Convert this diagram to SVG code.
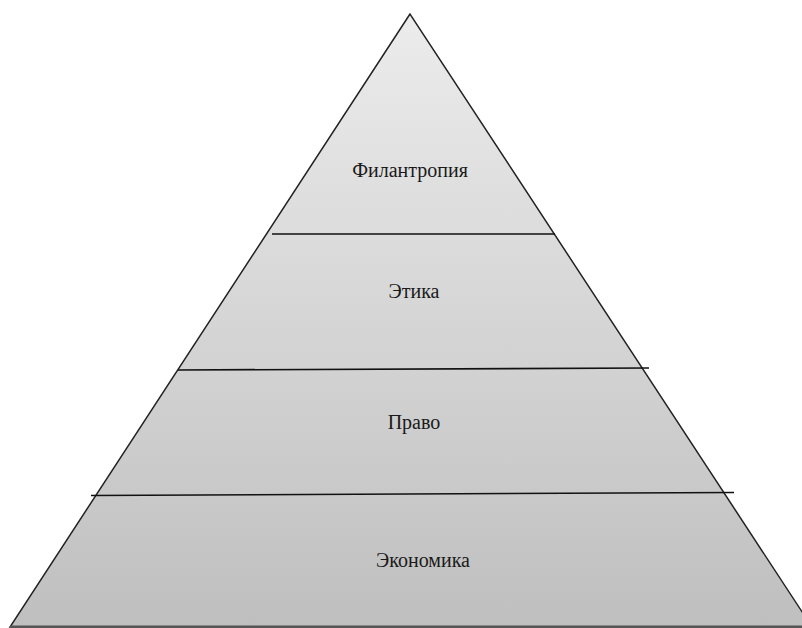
<svg xmlns="http://www.w3.org/2000/svg" width="802" height="628" viewBox="0 0 802 628">
<defs>
<linearGradient id="g" x1="0" y1="14" x2="0" y2="627" gradientUnits="userSpaceOnUse">
<stop offset="0" stop-color="#ececec"/>
<stop offset="1" stop-color="#bfbfbf"/>
</linearGradient>
<style>
.lbl{font-family:"Liberation Serif","Times New Roman",serif;font-size:20px;fill:#1a1a1a;text-anchor:middle}
.div{stroke:#111;stroke-width:1.6;fill:none}
</style>
</defs>
<rect width="802" height="628" fill="#fff"/>
<g id="pyramid">
<polygon points="410,14 10,627 812,627" fill="url(#g)" stroke="#222" stroke-width="1.5"/>
<line x1="10" y1="626.5" x2="802" y2="626.5" stroke="#555" stroke-width="2"/>
</g>
<g id="dividers">
<line class="div" x1="272" y1="234" x2="555" y2="234"/>
<line class="div" x1="178" y1="370" x2="649" y2="368"/>
<line class="div" x1="91" y1="495.5" x2="734" y2="492.5"/>
</g>
<g id="philanthropy"><text class="lbl" x="410" y="177">Филантропия</text></g>
<g id="ethics"><text class="lbl" x="414" y="298">Этика</text></g>
<g id="law"><text class="lbl" x="414" y="429">Право</text></g>
<g id="economy"><text class="lbl" x="423" y="567">Экономика</text></g>
</svg>
